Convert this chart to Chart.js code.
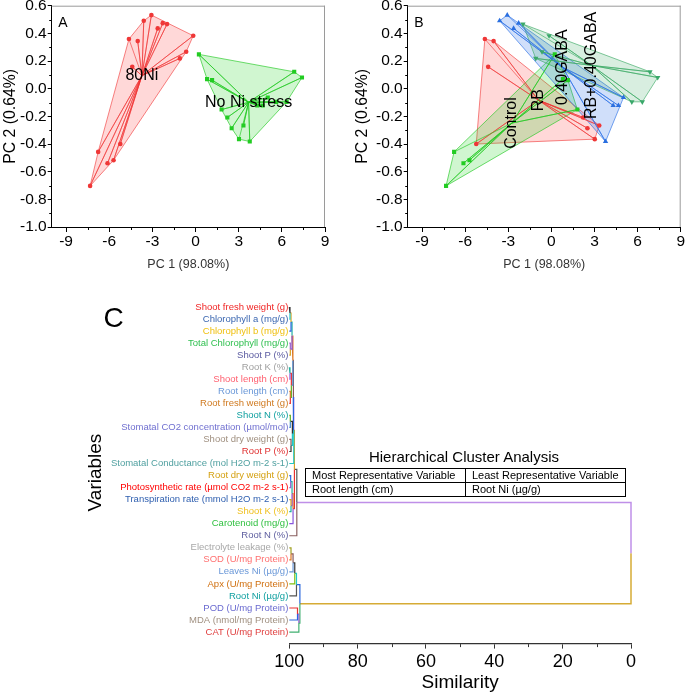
<!DOCTYPE html>
<html><head><meta charset="utf-8">
<title>PCA and hierarchical cluster analysis</title>
<script src="https://cdn.jsdelivr.net/npm/chart.js@4.4.1/dist/chart.umd.min.js"></script>
<style>
html,body{margin:0;padding:0;background:#fff;}
#wrap{position:relative;width:685px;height:694px;overflow:hidden;background:#fff;font-family:"Liberation Sans",Arial,Helvetica,sans-serif;}
.box{position:absolute;}
.txt{position:absolute;white-space:nowrap;color:#000;}
table.hca{position:absolute;left:305px;top:468px;width:321px;border-collapse:collapse;font-size:11px;table-layout:fixed;}
table.hca td{border:1.3px solid #000;padding:0 0 0 6px;height:13px;line-height:13px;overflow:hidden;white-space:nowrap;}
</style></head><body>
<div id="wrap">
 <div class="box" style="left:0;top:0;width:342px;height:280px"><canvas id="cA"></canvas></div>
 <div class="box" style="left:342px;top:0;width:343px;height:280px"><canvas id="cB"></canvas></div>
 <div class="box" style="left:0;top:285px;width:685px;height:409px"><canvas id="cC"></canvas></div>
 <div class="txt" style="left:103.5px;top:304.3px;font-size:28px;line-height:28px">C</div>
 <div class="txt" style="left:314px;top:447.5px;width:300px;text-align:center;font-size:15px;line-height:18px">Hierarchical Cluster Analysis</div>
 <table class="hca">
  <tr><td>Most Representative Variable</td><td>Least Representative Variable</td></tr>
  <tr><td>Root length (cm)</td><td>Root Ni (µg/g)</td></tr>
 </table>
</div>
<script>
const FONT = '"Liberation Sans", Arial, Helvetica, sans-serif';
Chart.defaults.font.family = FONT;

// ---------- PCA scores (PC1, PC2) ----------
// Panel A groups
const ni80PC1 = [-4.63, -4.02, -4.40, -5.23, -6.77, -5.70, -6.12, -7.33, -3.07, -3.60, -2.28, -2.63, -1.98, -0.16, -0.65, -1.09];
const ni80PC2 = [0.359, 0.344, 0.158, -0.400, -0.457, -0.517, -0.539, -0.703, 0.532, 0.491, 0.474, 0.436, 0.467, 0.383, 0.267, 0.219];
const noNiPC1 = [3.02, 2.51, 3.33, 2.21, 0.233, 1.81, 0.80, 1.15, 5.02, 4.30, 4.67, 3.77, 6.86, 7.40, 5.60, 6.33];
const noNiPC2 = [-0.365, -0.286, -0.266, -0.208, 0.248, -0.151, 0.069, 0.062, -0.064, -0.122, -0.122, -0.382, 0.122, 0.081, -0.095, -0.095];
// Panel B groups
const rbPC1 = [-4.63, -4.02, -4.40, -5.23, 3.02, 2.51, 3.33, 2.21];
const rbPC2 = [0.359, 0.344, 0.158, -0.400, -0.365, -0.286, -0.266, -0.208];
const controlPC1 = [-6.77, -5.70, -6.12, -7.33, 0.233, 1.81, 0.80, 1.15];
const controlPC2 = [-0.457, -0.517, -0.539, -0.703, 0.248, -0.151, 0.069, 0.062];
const gabaPC1 = [-3.07, -3.60, -2.28, -2.63, 5.02, 4.30, 4.67, 3.77];
const gabaPC2 = [0.532, 0.491, 0.474, 0.436, -0.064, -0.122, -0.122, -0.382];
const rbGabaPC1 = [-1.98, -0.16, -0.65, -1.09, 6.86, 7.40, 5.60, 6.33];
const rbGabaPC2 = [0.467, 0.383, 0.267, 0.219, 0.122, 0.081, -0.095, -0.095];

const pc1Ticks = [-9, -6, -3, 0, 3, 6, 9];
const pc1Minor = [-7.5, -4.5, -1.5, 1.5, 4.5, 7.5];
const pc2Ticks = [-1.0, -0.8, -0.6, -0.4, -0.2, 0.0, 0.2, 0.4, 0.6];
const pc2Minor = [-0.9, -0.7, -0.5, -0.3, -0.1, 0.1, 0.3, 0.5];

// ---------- Hierarchical cluster analysis ----------
const leafLabels = [
 'Shoot fresh weight (g)', 'Chlorophyll a (mg/g)', 'Chlorophyll b (mg/g)', 'Total Chlorophyll (mg/g)',
 'Shoot P (%)', 'Root K (%)', 'Shoot length (cm)', 'Root length (cm)', 'Root fresh weight (g)',
 'Shoot N (%)', 'Stomatal CO2 concentration (µmol/mol)', 'Shoot dry weight (g)', 'Root P (%)',
 'Stomatal Conductance (mol H2O m-2 s-1)', 'Root dry weight (g)', 'Photosynthetic rate (µmol CO2 m-2 s-1)',
 'Transpiration rate (mmol H2O m-2 s-1)', 'Shoot K (%)', 'Carotenoid (mg/g)', 'Root N (%)',
 'Electrolyte leakage (%)', 'SOD (U/mg Protein)', 'Leaves Ni (µg/g)', 'Apx (U/mg Protein)',
 'Root Ni (µg/g)', 'POD (U/mg Protein)', 'MDA (nmol/mg Protein)', 'CAT (U/mg Protein)'
];
// merges: node id = leaves + merge index
const mergeA = [0, 28, 3, 29, 5, 7, 32, 31, 9, 11, 36, 35, 39, 14, 16, 41, 43, 40, 45, 20, 47, 48, 49, 25, 51, 50, 46];
const mergeB = [1, 2, 4, 30, 6, 8, 33, 34, 10, 12, 37, 38, 13, 15, 17, 42, 18, 44, 19, 21, 22, 23, 24, 26, 27, 52, 53];
const mergeSim = [99.8, 99.5, 99.7, 99.2, 99.8, 99.7, 99.4, 98.95, 99.7, 99.5, 99.1, 98.8, 98.7, 99.6, 99.5, 99.2, 98.9, 98.5, 97.8, 99.5, 98.9, 98.4, 97.9, 97.6, 97.2, 96.9, 0];
const simTicks = [0, 20, 40, 60, 80, 100];
const simMinor = [10, 30, 50, 70, 90];

// ---------- styles ----------
const leafColors = ['#f02424', '#3a66b0', '#f0c010', '#30c050', '#5a5aa0', '#a0a0a0', '#ff6070', '#6a98d8',
 '#d07a20', '#10a0a0', '#7070d0', '#a09080', '#e03030', '#50a0a0', '#d4a010', '#ff0000', '#3060b0',
 '#f0c020', '#30c040', '#6060a0', '#a8a8a8', '#ff7070', '#6a98d8', '#d07010', '#10a0a0', '#6a6ad0', '#a09080', '#e04040'];
const stemPalette = ['#333333', '#20c8c8', '#2a66dd', '#9a60d0', '#d4a020', '#20b0a0', '#8855dd', '#dd7722', '#e83030', '#60b020', '#4488cc', '#8b5a5a'];
const stemOverride = {46: '#bf8fe8', 53: '#d6ab35', 19: '#8b6060', 45: '#555555', 50: '#2a66dd', 52: '#40b070', 20: '#a0a020', 21: '#dd7722', 22: '#6a98d8', 23: '#80c010', 24: '#555555', 25: '#e83030', 26: '#2a66dd', 27: '#40b070'};

function convexHull(pts) {
  const p = pts.slice().sort((a, b) => a.x - b.x || a.y - b.y);
  const cross = (o, a, b) => (a.x - o.x) * (b.y - o.y) - (a.y - o.y) * (b.x - o.x);
  const lower = [];
  for (const q of p) { while (lower.length >= 2 && cross(lower[lower.length - 2], lower[lower.length - 1], q) <= 0) lower.pop(); lower.push(q); }
  const upper = [];
  for (let i = p.length - 1; i >= 0; i--) { const q = p[i]; while (upper.length >= 2 && cross(upper[upper.length - 2], upper[upper.length - 1], q) <= 0) upper.pop(); upper.push(q); }
  upper.pop(); lower.pop();
  return lower.concat(upper);
}
const mean = a => a.reduce((s, v) => s + v, 0) / a.length;

function groupSets(xs, ys, st, k) {
  const pts = xs.map((x, i) => ({x: x, y: ys[i]}));
  const c = {x: mean(xs), y: mean(ys)};
  const h = convexHull(pts); h.push(h[0]);
  const spokes = [];
  pts.forEach(p => { spokes.push(p, c); });
  return {
    centroid: c,
    sets: [
      {data: h, showLine: true, fill: 'shape', backgroundColor: st.fill, borderColor: st.edge, borderWidth: 0.8, pointRadius: 0, tension: 0, order: 300 - k},
      {data: spokes, showLine: true, fill: false, borderColor: st.edge, borderWidth: 0.8, pointRadius: 0, tension: 0, order: 200 - k},
      {data: pts, showLine: false, pointStyle: st.shape, rotation: st.rot || 0, pointRadius: st.r, pointBackgroundColor: st.color, pointBorderColor: st.color, pointBorderWidth: 0, order: 100 - k}
    ]
  };
}

function makeDecor(letter, labels, rotate) {
  return {
    id: 'decor',
    afterDatasetsDraw(chart) {
      const {ctx, scales: {x, y}} = chart;
      ctx.save();
      ctx.font = '16px ' + FONT; ctx.fillStyle = '#000'; ctx.textAlign = 'center'; ctx.textBaseline = 'middle';
      labels.forEach(l => {
        ctx.save();
        ctx.translate(x.getPixelForValue(l.x), y.getPixelForValue(l.y));
        ctx.rotate(rotate);
        ctx.fillText(l.text, 0, 0);
        ctx.restore();
      });
      ctx.restore();
    },
    afterDraw(chart) {
      const {ctx, chartArea: a, scales: {x, y}} = chart;
      ctx.save();
      ctx.lineWidth = 1;
      ctx.strokeStyle = '#9a9a9a';
      ctx.beginPath();
      ctx.moveTo(a.left, a.top + 0.5); ctx.lineTo(a.right, a.top + 0.5);
      ctx.moveTo(a.right - 0.5, a.top); ctx.lineTo(a.right - 0.5, a.bottom);
      ctx.stroke();
      ctx.strokeStyle = '#000';
      ctx.beginPath();
      pc1Minor.forEach(v => { const px = Math.round(x.getPixelForValue(v)) + 0.5; ctx.moveTo(px, a.bottom); ctx.lineTo(px, a.bottom + 3); });
      pc2Minor.forEach(v => { const py = Math.round(y.getPixelForValue(v)) + 0.5; ctx.moveTo(a.left, py); ctx.lineTo(a.left - 2.5, py); });
      ctx.stroke();
      ctx.font = '14px ' + FONT; ctx.fillStyle = '#000'; ctx.textAlign = 'left'; ctx.textBaseline = 'alphabetic';
      ctx.fillText(letter, a.left + 6.6, a.top + 21.6);
      ctx.restore();
    }
  };
}

function pcaOptions(cfg) {
  return {
    responsive: true, maintainAspectRatio: false, animation: false,
    layout: {padding: {left: 0, top: 5.7, right: cfg.right, bottom: 0}},
    plugins: {legend: {display: false}, tooltip: {enabled: false}},
    scales: {
      x: {
        type: 'linear', min: -10, max: 9,
        afterBuildTicks: s => { s.ticks = pc1Ticks.map(v => ({value: v})); },
        afterFit: s => { s.height = 53; },
        ticks: {font: {size: 15.5}, color: '#000', padding: 0, callback: v => String(v)},
        grid: {drawOnChartArea: false, drawTicks: true, tickLength: 5, tickColor: '#000'},
        border: {display: true, color: '#000', width: 1},
        title: {display: true, text: 'PC 1 (98.08%)', font: {size: 12.5}, color: '#333', padding: {top: 0, bottom: 7.5}}
      },
      y: {
        type: 'linear', min: -1.0, max: 0.6,
        afterBuildTicks: s => { s.ticks = pc2Ticks.map(v => ({value: v})); },
        afterFit: s => { s.width = cfg.yw; s.paddingTop = 0; s.paddingBottom = 0; },
        ticks: {font: {size: 15.5}, color: '#000', padding: 1, callback: v => v.toFixed(1)},
        grid: {drawOnChartArea: false, drawTicks: true, tickLength: 4, tickColor: '#000'},
        border: {display: true, color: '#000', width: 1},
        title: {display: true, text: 'PC 2 (0.64%)', font: {size: 15.8}, color: '#000', padding: {top: cfg.ytp, bottom: 0}}
      }
    }
  };
}

// ---------- Panel A ----------
const stRed = {fill: 'rgba(255,40,40,0.18)', edge: 'rgba(240,50,50,0.75)', color: '#ef3737', shape: 'circle', r: 2.3};
const stGreen = {fill: 'rgba(20,210,20,0.2)', edge: 'rgba(30,200,30,0.8)', color: '#22cc22', shape: 'rect', r: 2.9};
const stBlue = {fill: 'rgba(40,110,230,0.22)', edge: 'rgba(40,110,230,0.8)', color: '#2a6fe0', shape: 'triangle', r: 3.1};
const stTeal = {fill: 'rgba(60,170,100,0.2)', edge: 'rgba(60,170,100,0.8)', color: '#3aa86a', shape: 'triangle', rot: 180, r: 3.1};

const gA1 = groupSets(ni80PC1, ni80PC2, stRed, 0);
const gA2 = groupSets(noNiPC1, noNiPC2, stGreen, 1);
new Chart(document.getElementById('cA'), {
  type: 'scatter',
  data: {datasets: [...gA1.sets, ...gA2.sets]},
  options: pcaOptions({right: 17, yw: 51.7, ytp: 1.5}),
  plugins: [makeDecor('A', [
    {x: gA1.centroid.x, y: gA1.centroid.y, text: '80Ni'},
    {x: gA2.centroid.x, y: gA2.centroid.y, text: 'No Ni stress'}
  ], 0)]
});

// ---------- Panel B ----------
const gB1 = groupSets(rbPC1, rbPC2, stRed, 0);
const gB2 = groupSets(controlPC1, controlPC2, stGreen, 1);
const gB3 = groupSets(gabaPC1, gabaPC2, stBlue, 2);
const gB4 = groupSets(rbGabaPC1, rbGabaPC2, stTeal, 3);
new Chart(document.getElementById('cB'), {
  type: 'scatter',
  data: {datasets: [...gB1.sets, ...gB2.sets, ...gB3.sets, ...gB4.sets]},
  options: pcaOptions({right: 4.3, yw: 65.7, ytp: 11.5}),
  plugins: [makeDecor('B', [
    {x: gB1.centroid.x, y: gB1.centroid.y, text: 'RB'},
    {x: gB2.centroid.x, y: gB2.centroid.y, text: 'Control'},
    {x: gB3.centroid.x, y: gB3.centroid.y, text: '0.40GABA'},
    {x: gB4.centroid.x, y: gB4.centroid.y, text: 'RB+0.40GABA'}
  ], -Math.PI / 2)]
});

// ---------- Panel C (dendrogram) ----------
const nLeaf = leafLabels.length;
const nodeY = [], nodeSim = [], parentOf = [];
leafLabels.forEach((_, i) => { nodeY[i] = i; nodeSim[i] = 100; });
mergeSim.forEach((s, k) => {
  const id = nLeaf + k;
  nodeY[id] = (nodeY[mergeA[k]] + nodeY[mergeB[k]]) / 2;
  nodeSim[id] = s;
  parentOf[mergeA[k]] = id; parentOf[mergeB[k]] = id;
});
const stemSets = [];
for (let i = 0; i < nodeY.length; i++) {
  const p = parentOf[i];
  if (p === undefined) continue;
  const col = stemOverride[i] || stemPalette[i % stemPalette.length];
  stemSets.push({
    data: [{x: nodeSim[i], y: nodeY[i]}, {x: nodeSim[p], y: nodeY[i]}, {x: nodeSim[p], y: nodeY[p]}],
    showLine: true, fill: false, borderColor: col, borderWidth: (i === 46 || i === 53) ? 1.5 : 1.2,
    pointRadius: 0, tension: 0, clip: 6
  });
}

const minorTicksC = {
  id: 'minorC',
  afterDraw(chart) {
    const {ctx, chartArea: a, scales: {x}} = chart;
    ctx.save(); ctx.strokeStyle = '#333'; ctx.lineWidth = 1; ctx.beginPath();
    simMinor.forEach(v => { const px = Math.round(x.getPixelForValue(v)) + 0.5; ctx.moveTo(px, a.bottom); ctx.lineTo(px, a.bottom + 3); });
    ctx.stroke(); ctx.restore();
  }
};

new Chart(document.getElementById('cC'), {
  type: 'scatter',
  data: {datasets: stemSets},
  options: {
    responsive: true, maintainAspectRatio: false, animation: false,
    layout: {padding: {left: 80, top: 16, right: 54, bottom: 0}},
    plugins: {legend: {display: false}, tooltip: {enabled: false}},
    scales: {
      x: {
        type: 'linear', min: 0, max: 100, reverse: true,
        afterBuildTicks: s => { s.ticks = simTicks.map(v => ({value: v})); },
        afterFit: s => { s.height = 49.9; },
        ticks: {font: {size: 18}, color: '#000', padding: 3},
        grid: {drawOnChartArea: false, drawTicks: true, tickLength: 4.5, tickColor: '#333'},
        border: {display: true, color: '#333', width: 1.3},
        title: {display: true, text: 'Similarity', font: {size: 19}, color: '#000', padding: {top: 0, bottom: 0}}
      },
      y: {
        type: 'linear', min: -0.5, max: 28, reverse: true,
        afterBuildTicks: s => { s.ticks = leafLabels.map((_, i) => ({value: i})); },
        afterFit: s => { s.width = 209.3; s.paddingTop = 0; s.paddingBottom = 0; },
        ticks: {autoSkip: false, font: {size: 9.5}, padding: 1,
          color: c => leafColors[c.index] || '#000',
          callback: v => leafLabels[v] || ''},
        grid: {display: false, drawTicks: false},
        border: {display: false},
        title: {display: true, text: 'Variables', font: {size: 19}, color: '#000', padding: {top: 4, bottom: 0}}
      }
    }
  },
  plugins: [minorTicksC]
});
</script>
</body></html>
